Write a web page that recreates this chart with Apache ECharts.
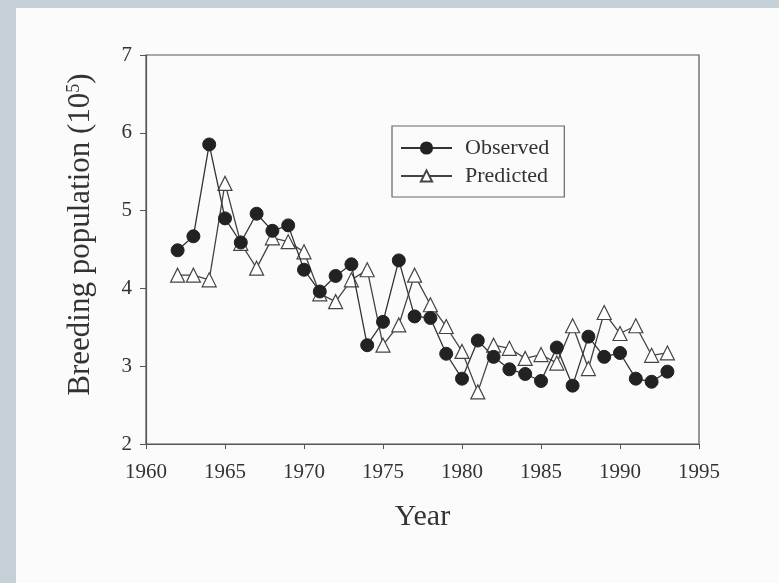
<!DOCTYPE html>
<html><head><meta charset="utf-8">
<script src="https://cdn.jsdelivr.net/npm/echarts@6/dist/echarts.min.js"></script>
<style>html,body{margin:0;padding:0;background:#c6d0d7;}#c{width:779px;height:583px;}</style>
</head><body><div id="c"></div>
<script>
const years = [1962,1963,1964,1965,1966,1967,1968,1969,1970,1971,1972,1973,1974,1975,1976,1977,1978,1979,1980,1981,1982,1983,1984,1985,1986,1987,1988,1989,1990,1991,1992,1993];
const observed = [4.49,4.67,5.85,4.90,4.59,4.96,4.74,4.81,4.24,3.96,4.16,4.31,3.27,3.57,4.36,3.64,3.62,3.16,2.84,3.33,3.12,2.96,2.90,2.81,3.24,2.75,3.38,3.12,3.17,2.84,2.80,2.93];
const predicted = [4.17,4.17,4.11,5.35,4.58,4.26,4.65,4.60,4.47,3.93,3.83,4.11,4.24,3.27,3.53,4.17,3.79,3.51,3.19,2.67,3.27,3.23,3.10,3.15,3.04,3.52,2.97,3.69,3.42,3.52,3.14,3.17];
const xTicks = [1960,1965,1970,1975,1980,1985,1990,1995];
const yTicks = [2,3,4,5,6,7];

const chart = echarts.init(document.getElementById('c'));
const serif = '"Liberation Serif","DejaVu Serif",serif';
chart.setOption({
  backgroundColor: 'transparent',
  animation: false,
  graphic: [{type:'rect', left:16, top:8, shape:{width:763, height:575}, style:{fill:'#fbfbfb'}, z:-10, silent:true}],
  grid: {left:146, right:80, top:55, bottom:139, show:true, borderColor:'#555', borderWidth:1.2, backgroundColor:'transparent'},
  legend: {
    left: 392, top: 126, orient: 'vertical', itemWidth: 51, itemHeight: 14, itemGap: 6,
    borderColor: '#666', borderWidth: 1.2, padding: [11, 15, 10, 8],
    textStyle: {fontFamily: serif, fontSize: 22, color: '#333', padding:[0,0,0,8]},
    data: ['Observed','Predicted']
  },
  xAxis: {
    type:'value', min:1960, max:1995, interval:5,
    axisLine:{lineStyle:{color:'#555', width:1.2}},
    axisTick:{inside:false, length:5, lineStyle:{color:'#555'}},
    splitLine:{show:false},
    axisLabel:{fontFamily:serif, fontSize:21, color:'#333', margin:18, formatter: v => xTicks.includes(v) ? String(v) : ''},
    name:'Year', nameLocation:'middle', nameGap:58,
    nameTextStyle:{fontFamily:serif, fontSize:30, color:'#333'}
  },
  yAxis: {
    type:'value', min:2, max:7, interval:1,
    axisLine:{lineStyle:{color:'#555', width:1.2}},
    axisTick:{inside:false, length:6, lineStyle:{color:'#555'}},
    splitLine:{show:false},
    axisLabel:{fontFamily:serif, fontSize:21, color:'#333', margin:14, formatter: v => yTicks.includes(v) ? String(v) : ''},
    name:'{a|Breeding population (10}{s|5}{a|)}', nameLocation:'middle', nameGap:50, nameRotate:90,
    nameTextStyle:{padding:[0,0,0,30], rich:{a:{fontFamily:serif, fontSize:31, color:'#333'}, s:{fontFamily:serif, fontSize:18, color:'#333', verticalAlign:'top', padding:[0,0,12,0]}}}
  },
  series: [
    {name:'Observed', type:'line', data: years.map((y,i)=>[y, observed[i]]),
     symbol:'circle', symbolSize:13, lineStyle:{color:'#333', width:1.3},
     itemStyle:{color:'#222', borderColor:'#222', borderWidth:1}, z:3},
    {name:'Predicted', type:'line', data: years.map((y,i)=>[y, predicted[i]]),
     symbol:'triangle', symbolSize:14, lineStyle:{color:'#444', width:1.3},
     itemStyle:{color:'#ffffff', borderColor:'#444', borderWidth:1.2}, z:2}
  ]
});
</script></body></html>
